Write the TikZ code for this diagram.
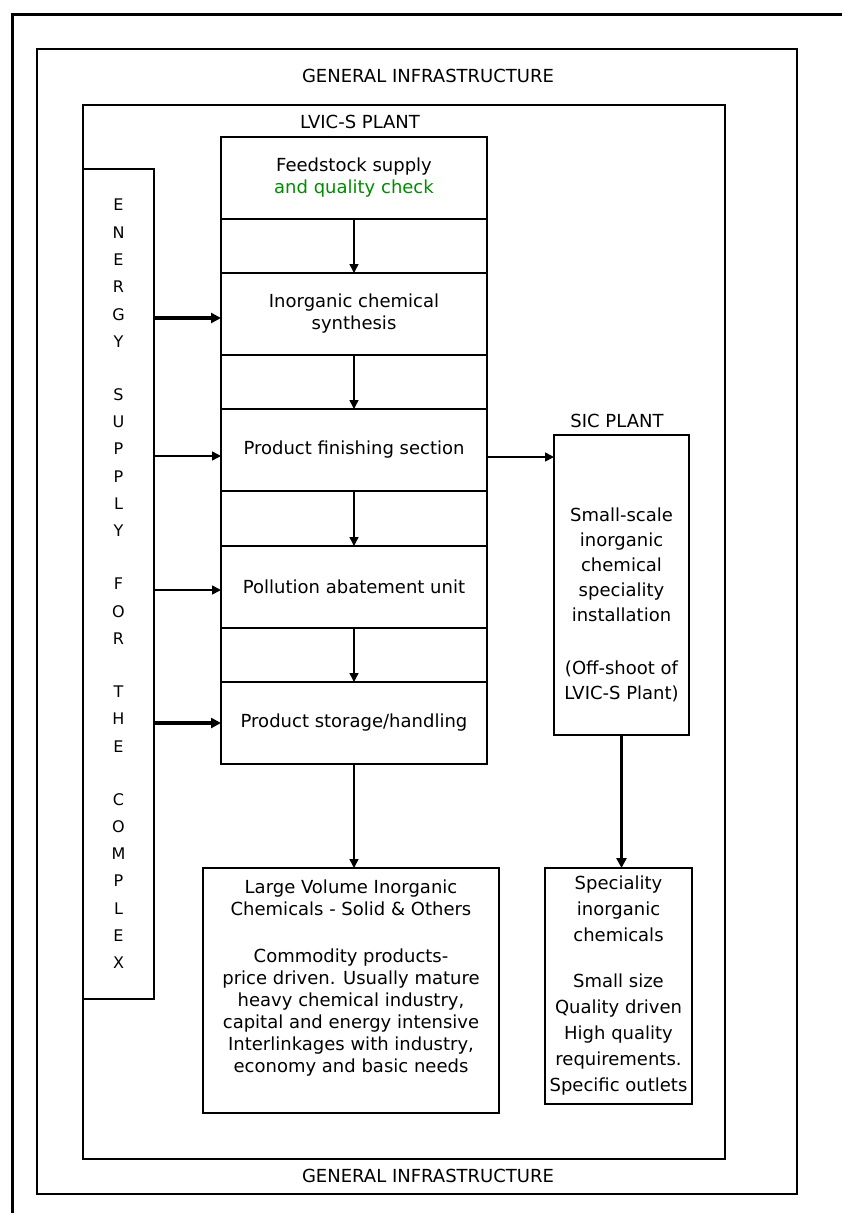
\documentclass[tikz,border=0pt]{standalone}
\usepackage{fontspec}
\setmainfont{DejaVu Sans}
\usetikzlibrary{arrows.meta}

\begin{document}
\begin{tikzpicture}[x=1pt,y=-1pt,
		box/.style={draw, line width=1.6pt, inner sep=0pt, outer sep=0pt},
		stage/.style={box, minimum width=266pt, minimum height=82pt, align=center, font=\fontsize{18}{22}\selectfont},
		plantname/.style={font=\fontsize{18}{22}\selectfont},
		flow/.style={line width=1.6pt, -{Triangle[length=9pt,width=9pt]}},
		bigflow/.style={line width=3.2pt, -{Triangle[length=10pt,width=10pt]}}]
		\useasboundingbox (0,0) rectangle (842,1213);
		\draw [line width=3pt] (842,14) -- (12,14) -- (12,1213);

		\draw (417,621.5) node [box, minimum width=760pt, minimum height=1145pt] (infra) {};
		\draw (404,632) node [box, minimum width=642pt, minimum height=1054pt] (lvics) {};
		\draw (428,76) node [plantname] (infratop) {GENERAL INFRASTRUCTURE};
		\draw (428,1176) node [plantname] (infrabot) {GENERAL INFRASTRUCTURE};
		\draw (360,122) node [plantname] (lvicsname) {LVIC-S PLANT};
		\draw (617,421) node [plantname] (sicname) {SIC PLANT};

		\draw (118.5,584) node [box, minimum width=71pt, minimum height=830pt, align=center, font=\fontsize{16}{27.3}\selectfont] (energy)
			{E\\N\\E\\R\\G\\Y\\[25.7pt]S\\U\\P\\P\\L\\Y\\[25.7pt]F\\O\\R\\[25.7pt]T\\H\\E\\[25.7pt]C\\O\\M\\P\\L\\E\\X};

		\draw (354,178) node [stage] (feed) {Feedstock supply\\\textcolor{green!55!black}{and quality check}};
		\draw (354,314) node [stage] (synth) {Inorganic chemical\\synthesis};
		\draw (354,450) node [stage] (finish) {Product finishing section};
		\draw (354,587) node [stage] (abate) {Pollution abatement unit};
		\draw (354,723) node [stage] (store) {Product storage/handling};
		\draw [box] (feed.north west) rectangle (store.south east);

		\draw (621.5,585) node [box, minimum width=135pt, minimum height=300pt] (sic) {};
		\draw (621.5,605) node [align=center, font=\fontsize{18}{25}\selectfont] (sictext)
			{Small-scale\\inorganic\\chemical\\speciality\\installation\\[28pt](Off-shoot of\\LVIC-S Plant)};

		\draw (351,990.5) node [box, minimum width=296pt, minimum height=245pt] (bulk) {};
		\draw (351,978) node [align=center, font=\fontsize{18}{22}\selectfont] (bulktext)
			{Large Volume Inorganic\\Chemicals - Solid \& Others\\[25pt]Commodity products-\\price driven. Usually mature\\heavy chemical industry,\\capital and energy intensive\\Interlinkages with industry,\\economy and basic needs};

		\draw (618.5,986) node [box, minimum width=147pt, minimum height=236pt, align=center, font=\fontsize{18}{26}\selectfont] (spec)
			{Speciality\\inorganic\\chemicals\\[20pt]Small size\\Quality driven\\High quality\\requirements.\\Specific outlets};

		\draw
			(feed) edge [flow] (synth)
			(synth) edge [flow] (finish)
			(finish) edge [flow] (abate)
			(abate) edge [flow] (store)
			(store) edge [flow] (store.south |- bulk.north)
			([yshift=-7pt]finish.east) edge [flow] ([yshift=-7pt]finish.east -| sic.west)
			(sic) edge [bigflow] (sic.south |- spec.north)
			([yshift=-4pt]energy.east |- synth) edge [bigflow] ([yshift=-4pt]synth.west)
			([yshift=-6pt]energy.east |- finish) edge [flow] ([yshift=-6pt]finish.west)
			([yshift=-3pt]energy.east |- abate) edge [flow] ([yshift=-3pt]abate.west)
			(energy.east |- store) edge [bigflow] (store)
		;
	\end{tikzpicture}
\end{document}
